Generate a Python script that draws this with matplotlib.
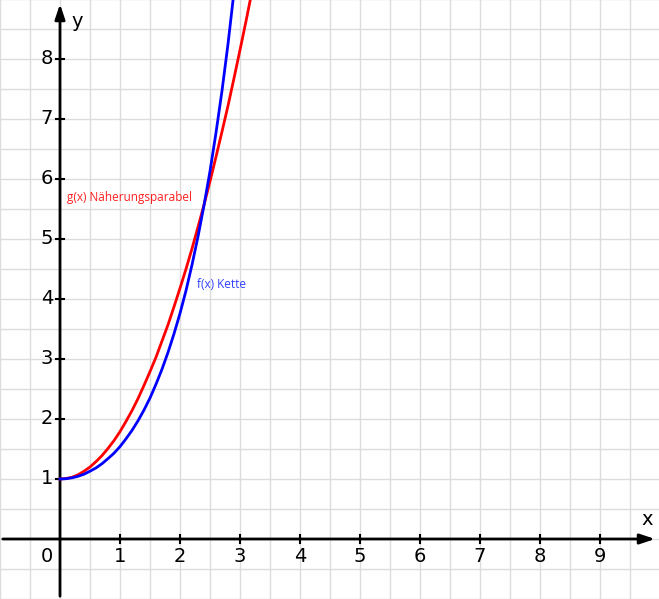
import numpy as np
import matplotlib.pyplot as plt

# values
x_f = [0.0, 0.1, 0.2, 0.3, 0.4, 0.5, 0.6, 0.7, 0.8, 0.9, 1.0, 1.1, 1.2, 1.3, 1.4, 1.5,
       1.6, 1.7, 1.8, 1.9, 2.0, 2.1, 2.2, 2.3, 2.4, 2.5, 2.6, 2.7, 2.8, 2.9, 3.0]
y_f = [1.00, 1.005, 1.02, 1.045, 1.08, 1.13, 1.185, 1.255, 1.34, 1.43, 1.54, 1.67, 1.81,
       1.97, 2.15, 2.35, 2.58, 2.83, 3.11, 3.42, 3.76, 4.14, 4.57, 5.04, 5.56, 6.13,
       6.77, 7.47, 8.25, 9.12, 10.07]
x_g = [0.0, 0.1, 0.2, 0.3, 0.4, 0.5, 0.6, 0.7, 0.8, 0.9, 1.0, 1.1, 1.2, 1.3, 1.4, 1.5,
       1.6, 1.7, 1.8, 1.9, 2.0, 2.1, 2.2, 2.3, 2.4, 2.5, 2.6, 2.7, 2.8, 2.9, 3.0, 3.1, 3.2]
y_g = [1.00, 1.008, 1.03, 1.07, 1.13, 1.20, 1.29, 1.39, 1.51, 1.64, 1.79, 1.96, 2.14,
       2.34, 2.56, 2.79, 3.03, 3.30, 3.57, 3.87, 4.18, 4.50, 4.84, 5.20, 5.57, 5.96,
       6.37, 6.79, 7.22, 7.68, 8.15, 8.63, 9.13]
xticks = [1, 2, 3, 4, 5, 6, 7, 8, 9]
yticks = [1, 2, 3, 4, 5, 6, 7, 8]

fig = plt.figure(figsize=(6.59, 5.99), dpi=100)
ax = fig.add_axes([0, 0, 1, 1])
xmin, xmax = -1, 659 / 60 - 1
ymin, ymax = -1, 539 / 60
ax.set_xlim(xmin, xmax)
ax.set_ylim(ymin, ymax)
ax.axis('off')

# grid every 0.5
for gx in np.arange(-1, 10.01, 0.5):
    ax.axvline(gx, color='#dcdcdc', lw=1, zorder=0)
for gy in np.arange(-1, 9.01, 0.5):
    ax.axhline(gy, color='#dcdcdc', lw=1, zorder=0)

# axes with arrows
ax.annotate('', xy=(xmax - 0.02, 0), xytext=(xmin, 0),
            arrowprops=dict(arrowstyle='-|>,head_length=0.9,head_width=0.3', color='black', lw=2), zorder=3)
ax.annotate('', xy=(0, ymax - 0.02), xytext=(0, ymin),
            arrowprops=dict(arrowstyle='-|>,head_length=0.9,head_width=0.3', color='black', lw=2), zorder=3)

tfont = dict(family='DejaVu Sans', fontsize=14)
for t in xticks:
    ax.plot([t, t], [-0.07, 0.07], color='black', lw=1.5, zorder=3)
    ax.text(t, -0.3, str(t), ha='center', va='center', **tfont)
for t in yticks:
    ax.plot([-0.07, 0.07], [t, t], color='black', lw=1.5, zorder=3)
    ax.text(-0.22, t, str(t), ha='center', va='center', **tfont)
ax.text(-0.22, -0.3, '0', ha='center', va='center', **tfont)
ax.text(9.78, 0.32, 'x', ha='center', va='center', **tfont)
ax.text(0.28, 8.62, 'y', ha='center', va='center', **tfont)

ax.plot(x_g, y_g, color='#ff0000', lw=2, zorder=4)
ax.plot(x_f, y_f, color='#0000ff', lw=2, zorder=5)

ax.text(0.11, 5.7, 'g(x) Näherungsparabel', color='#ff2020', fontsize=8.5,
        family='Open Sans', ha='left', va='center')
ax.text(2.28, 4.25, 'f(x) Kette', color='#3040ff', fontsize=8.5,
        family='Open Sans', ha='left', va='center')

fig.savefig('out.png', dpi=100)
